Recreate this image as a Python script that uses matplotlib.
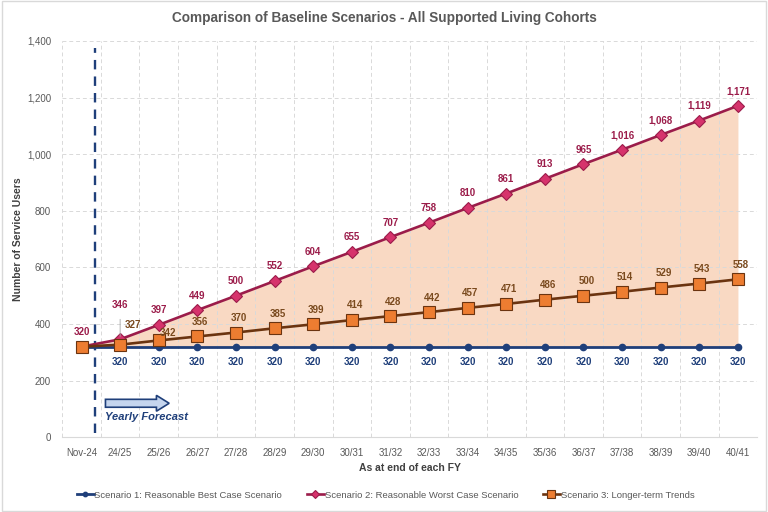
import matplotlib.pyplot as plt
from matplotlib.patches import FancyArrow, Rectangle
import numpy as np

plt.rcParams['font.family'] = ['Liberation Sans', 'DejaVu Sans']

periods = ["Nov-24", "24/25", "25/26", "26/27", "27/28", "28/29", "29/30", "30/31", "31/32",
           "32/33", "33/34", "34/35", "35/36", "36/37", "37/38", "38/39", "39/40", "40/41"]
best_case = [320] * 18
worst_case = [320, 346, 397, 449, 500, 552, 604, 655, 707, 758, 810, 861, 913, 965, 1016, 1068, 1119, 1171]
long_term = [320, 327, 342, 356, 370, 385, 399, 414, 428, 442, 457, 471, 486, 500, 514, 529, 543, 558]

blue = '#1f3f7a'
red = '#9b1c4a'
brown = '#6b3410'
grey = '#595959'

fig = plt.figure(figsize=(7.68, 5.12), dpi=100)
ax = fig.add_axes([0.081, 0.146, 0.905, 0.774])
x = np.arange(len(periods))

ax.fill_between(x, best_case, worst_case, color='#f8cbad', alpha=0.72, lw=0, zorder=1)
ax.plot(x, best_case, color=blue, lw=2, marker='o', ms=4.5, zorder=3,
        label='Scenario 1: Reasonable Best Case Scenario')
ax.plot(x, worst_case, color=red, lw=1.9, marker='D', ms=6, mfc='#d6336c', mec=red, mew=0.8,
        zorder=4, label='Scenario 2: Reasonable Worst Case Scenario')
ax.plot(x, long_term, color=brown, lw=1.9, marker='s', ms=8, mfc='#ed7d31', mec=brown, mew=0.8,
        zorder=5, label='Scenario 3: Longer-term Trends')

# data labels
lbl = dict(textcoords='offset points', ha='center', va='center', fontsize=7, fontweight='bold', zorder=6)
for i in range(1, len(x)):
    ax.annotate(f"{best_case[i]:,}", (x[i], best_case[i]), xytext=(0, -11), color=blue, **lbl)
for i in range(len(x)):
    if i == 1:
        ax.annotate(f"{worst_case[i]:,}", (x[i], worst_case[i]), xytext=(0, 25), color=red,
                    arrowprops=dict(arrowstyle='-', color='#a6a6a6', lw=0.6, shrinkA=5, shrinkB=2), **lbl)
    else:
        ax.annotate(f"{worst_case[i]:,}", (x[i], worst_case[i]), xytext=(0, 10.5), color=red, **lbl)
for i in range(1, len(x)):
    if i == 1:
        dx, dy = 9, 14
    elif i == 2:
        dx, dy = 7, 5.5
    else:
        dx, dy = 2, 10.5
    ax.annotate(f"{long_term[i]:,}", (x[i], long_term[i]), xytext=(dx, dy), color='#7a4a1e', **lbl)

# forecast marker
ax.plot([0.34, 0.34], [15, 1375], color=blue, lw=1.7, ls=(0, (4, 3)), zorder=2)
ax.add_patch(FancyArrow(0.62, 120, 1.32, 0, width=28, head_width=56, head_length=0.33,
                        length_includes_head=False, fc='#c5d5ee', ec=blue, lw=1.2, zorder=2))
ax.text(0.62, 72, 'Yearly Forecast', fontsize=8, fontweight='bold', style='italic',
        color=blue, ha='left', va='center')

ax.set_xlim(-0.5, len(x) - 0.5)
ax.set_ylim(0, 1400)
ax.set_yticks(range(0, 1401, 200))
ax.set_yticklabels([f"{v:,}" for v in range(0, 1401, 200)])
ax.set_xticks(x)
ax.set_xticklabels(periods)
ax.set_xticks(np.arange(-0.5, len(x), 1), minor=True)
ax.tick_params(axis='both', which='both', length=0, labelsize=7, colors=grey, pad=8)
ax.grid(True, axis='y', which='major', color='#d9d9d9', ls=(0, (4, 3)), lw=0.7)
ax.grid(True, axis='x', which='minor', color='#d9d9d9', ls=(0, (4, 3)), lw=0.7)
for s in ['top', 'right', 'left']:
    ax.spines[s].set_visible(False)
ax.spines['bottom'].set_color('#d9d9d9')

ax.set_xlabel('As at end of each FY', fontsize=7.5, fontweight='bold', color='#404040', labelpad=3)
ax.set_ylabel('Number of Service Users', fontsize=7.5, fontweight='bold', color='#404040', labelpad=3)

fig.text(0.5, 0.965, 'Comparison of Baseline Scenarios - All Supported Living Cohorts',
         ha='center', va='center', fontsize=9.8, fontweight='bold', color=grey)
fig.legend(loc='center', bbox_to_anchor=(0.502, 0.033), ncol=3, frameon=False, fontsize=6.8,
           handlelength=1.8, handletextpad=0.1, columnspacing=2.6, labelcolor=grey, markerscale=0.7)
fig.patches.append(Rectangle((0.002, 0.002), 0.996, 0.996, transform=fig.transFigure,
                             fill=False, ec='#d9d9d9', lw=1))

fig.savefig('out.png', dpi=100)
